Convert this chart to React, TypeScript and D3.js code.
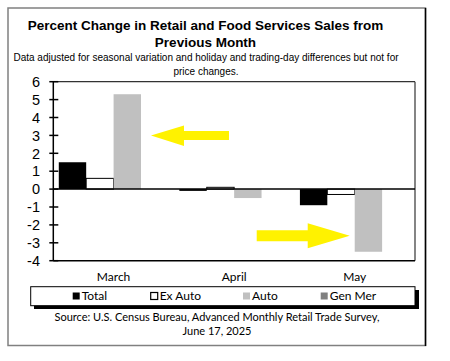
import React from "react";
import * as d3 from "d3";

const categories = ["March", "April", "May"];
const seriesNames = ["Total", "Ex Auto", "Auto", "Gen Mer"];
const totalValues: (number | null)[] = [1.5, -0.1, -0.9];
const exAutoValues: (number | null)[] = [0.6, 0.1, -0.3];
const autoValues: (number | null)[] = [5.3, -0.5, -3.5];
const genMerValues: (number | null)[] = [null, null, null];
const yTicks = [6, 5, 4, 3, 2, 1, 0, -1, -2, -3, -4];
const titleLines = ["Percent Change in Retail and Food Services Sales from", "Previous Month"];
const subtitleLines = ["Data adjusted for seasonal variation and holiday and trading-day differences but not for", "price changes."];
const sourceLines = ["Source: U.S. Census Bureau, Advanced Monthly Retail Trade Survey,", "June 17, 2025"];

const seriesValues = [totalValues, exAutoValues, autoValues, genMerValues];
const fills = ["#000000", "#ffffff", "#c0c0c0", "#808080"];
const strokes = ["none", "#000000", "none", "none"];

const W = 450, H = 361;
const X0 = 53.3, X1 = 415, YT = 81.7, YB = 260.7;
const labelFont = "Lato, 'Open Sans', sans-serif";
const arial = "'Liberation Sans', Arial, sans-serif";

export default function App() {
  const y = d3.scaleLinear().domain([-4, 6]).range([YB, YT]);
  const x = d3.scaleBand<string>().domain(categories).range([X0, X1]);
  const xs = d3.scaleBand<string>().domain(seriesNames).range([0, x.bandwidth()]).paddingOuter(0.2).paddingInner(0);
  const y0 = y(0);

  const bars: JSX.Element[] = [];
  seriesValues.forEach((vals, si) => {
    vals.forEach((v, ci) => {
      if (v == null) return;
      const bx = (x(categories[ci]) as number) + (xs(seriesNames[si]) as number);
      const top = Math.min(y(v), y0);
      const h = Math.abs(y(v) - y0);
      bars.push(
        <rect key={`${si}-${ci}`} x={bx} y={top} width={xs.bandwidth()} height={h}
          fill={fills[si]} stroke={strokes[si]} strokeWidth={strokes[si] === "none" ? 0 : 1} />
      );
    });
  });

  // arrows (annotations)
  const a1TipX = (x("March") as number) + (xs("Auto") as number) + xs.bandwidth() + 10;
  const a1Y = y(3);
  const a2TipX = (x("May") as number) + (xs("Auto") as number) - 5;
  const a2Y = y(-2.6);
  const arrow1 = `M${a1TipX},${a1Y} L${a1TipX + 33},${a1Y - 10} L${a1TipX + 33},${a1Y - 4.5} L${a1TipX + 78},${a1Y - 4.5} L${a1TipX + 78},${a1Y + 4.5} L${a1TipX + 33},${a1Y + 4.5} L${a1TipX + 33},${a1Y + 10.5} Z`;
  const arrow2 = `M${a2TipX},${a2Y} L${a2TipX - 42},${a2Y - 12.5} L${a2TipX - 42},${a2Y - 5.5} L${a2TipX - 93},${a2Y - 5.5} L${a2TipX - 93},${a2Y + 5.5} L${a2TipX - 42},${a2Y + 5.5} L${a2TipX - 42},${a2Y + 12.5} Z`;

  const legendX = [72.7, 150.7, 243, 320.7];

  return (
    <svg width={W} height={H} style={{ position: "absolute", left: 0, top: 0 }}>
      <rect x={0} y={0} width={W} height={H} fill="#fff" />
      {/* outer frame */}
      <rect x={8} y={8} width={417.5} height={337.5} fill="none" stroke="#808080" strokeWidth={1.5} />
      <line x1={425.5} x2={425.5} y1={8} y2={346} stroke="#000" strokeWidth={1.5} />

      {titleLines.map((t, i) => (
        <text key={t} x={205.5} y={29.5 + i * 17.3} textAnchor="middle" fontFamily={arial} fontWeight="bold" fontSize={13.5} fill="#000">{t}</text>
      ))}
      {subtitleLines.map((t, i) => (
        <text key={t} x={206} y={61.3 + i * 13.5} textAnchor="middle" fontFamily={arial} fontSize={10} fill="#000">{t}</text>
      ))}

      {/* plot frame */}
      <line x1={X0} x2={X1} y1={YT} y2={YT} stroke="#333" strokeWidth={1.2} />
      <line x1={X1} x2={X1} y1={YT} y2={YB} stroke="#333" strokeWidth={1.2} />

      {bars}

      <line x1={X0} x2={X1} y1={y0} y2={y0} stroke="#000" strokeWidth={1.5} />
      <line x1={X0} x2={X1} y1={YB} y2={YB} stroke="#000" strokeWidth={1.5} />
      <line x1={X0} x2={X0} y1={YT} y2={YB} stroke="#000" strokeWidth={1.5} />
      {yTicks.map((t) => (
        <g key={t}>
          <line x1={X0 - 4} x2={X0 + 5} y1={y(t)} y2={y(t)} stroke="#000" strokeWidth={1.5} />
          <text x={40} y={y(t)} dy="0.36em" textAnchor="end" fontFamily={arial} fontSize={14.5} fill="#000">{t}</text>
        </g>
      ))}

      <path d={arrow1} fill="#fff200" />
      <path d={arrow2} fill="#fff200" />

      {categories.map((c) => (
        <text key={c} x={(x(c) as number) + x.bandwidth() / 2} y={281} textAnchor="middle" fontFamily={labelFont} fontSize={12} fill="#000">{c}</text>
      ))}

      {/* legend */}
      <rect x={34} y={290} width={385} height={19} fill="#000" />
      <rect x={30.7} y={286.7} width={384.3} height={19} fill="#fff" stroke="#000" strokeWidth={1} />
      {seriesNames.map((s, i) => (
        <g key={s}>
          <rect x={legendX[i]} y={292.5} width={7} height={7} fill={fills[i]} stroke={strokes[i]} strokeWidth={strokes[i] === "none" ? 0 : 1.2} />
          <text x={legendX[i] + 9} y={300} fontFamily={labelFont} fontSize={12} fill="#000">{s}</text>
        </g>
      ))}

      {sourceLines.map((t, i) => (
        <text key={t} x={217} y={320.5 + i * 14} textAnchor="middle" fontFamily={labelFont} fontSize={11} fill="#000">{t}</text>
      ))}
    </svg>
  );
}
